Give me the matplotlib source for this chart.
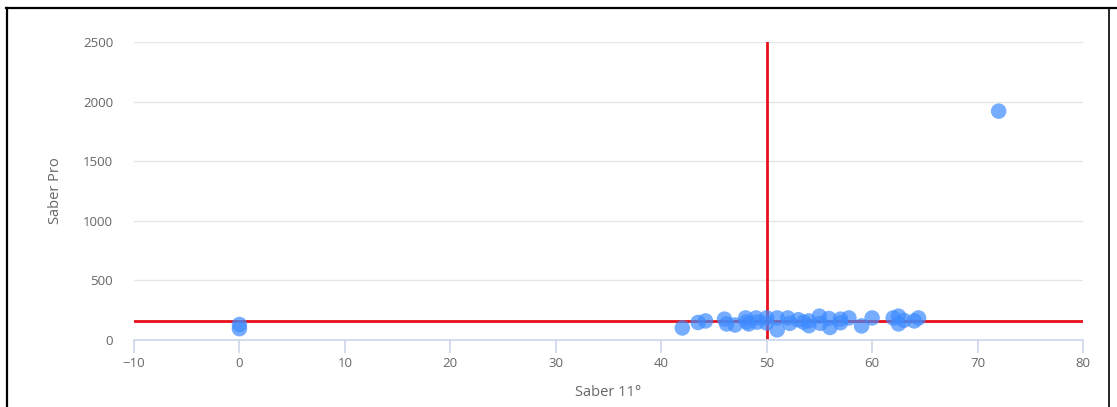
import matplotlib
matplotlib.use("Agg")
import matplotlib.pyplot as plt
from matplotlib.lines import Line2D

saber11 = [0, 0, 42, 43.5, 44.2, 46, 46.2, 47, 48, 48.1, 48.3, 49, 49.1, 50, 50, 51, 51,
           52, 52.2, 53, 53.5, 54, 54, 55, 55.1, 55.9, 56, 57, 57, 57.8, 59, 60, 62,
           62.5, 62.5, 63, 64, 64.4, 72]
saberpro = [130, 95, 101, 147, 160, 175, 135, 126, 185, 152, 135, 185, 150, 185, 143, 185, 85,
            185, 140, 170, 150, 160, 120, 200, 140, 180, 105, 145, 175, 185, 118, 185, 185,
            200, 135, 165, 160, 185, 1920]
ref_x = 50
ref_y = 160

xticks = [-10, 0, 10, 20, 30, 40, 50, 60, 70, 80]
yticks = [0, 500, 1000, 1500, 2000, 2500]

plt.rcParams['font.family'] = ['Open Sans', 'DejaVu Sans']
fig = plt.figure(figsize=(11.17, 4.07), dpi=100)
ax = fig.add_axes([134/1117, 1-340/407, (1083-134)/1117, (340-42)/407])

ax.set_xlim(-10, 80)
ax.set_ylim(0, 2500)
ax.set_xticks(xticks)
ax.set_yticks(yticks)
ax.yaxis.grid(True, color='#e6e6e6', linewidth=1)
ax.set_axisbelow(True)
for s in ['top', 'right', 'left']:
    ax.spines[s].set_visible(False)
ax.spines['bottom'].set_color('#ccd6eb')
ax.spines['bottom'].set_linewidth(1.2)
ax.tick_params(axis='x', colors='#ccd6eb', length=9, width=1.2, labelcolor='#666666', labelsize=9.5, pad=3)
ax.tick_params(axis='y', length=0, labelcolor='#666666', labelsize=9.5, pad=15)

ax.axhline(ref_y, color='#e8101a', linewidth=2, zorder=2)
ax.axvline(ref_x, color='#e8101a', linewidth=2, zorder=2)
ax.scatter(saber11, saberpro, s=125, color='#3d8bff', alpha=0.7, edgecolors='none', zorder=3)

ax.set_xlabel('Saber 11°', color='#666666', fontsize=10.5, labelpad=11)
ax.set_ylabel('Saber Pro', color='#666666', fontsize=10.5, labelpad=14)

fig.add_artist(Line2D([6/1117, 1.0], [1-7.5/407, 1-7.5/407], color='black', linewidth=1.6, transform=fig.transFigure))
fig.add_artist(Line2D([6.5/1117, 6.5/1117], [0, 1-7.5/407], color='black', linewidth=1.6, transform=fig.transFigure))
fig.add_artist(Line2D([1108.5/1117, 1108.5/1117], [0, 1-7.5/407], color='black', linewidth=1.2, transform=fig.transFigure))

fig.savefig('out.png', dpi=100)
